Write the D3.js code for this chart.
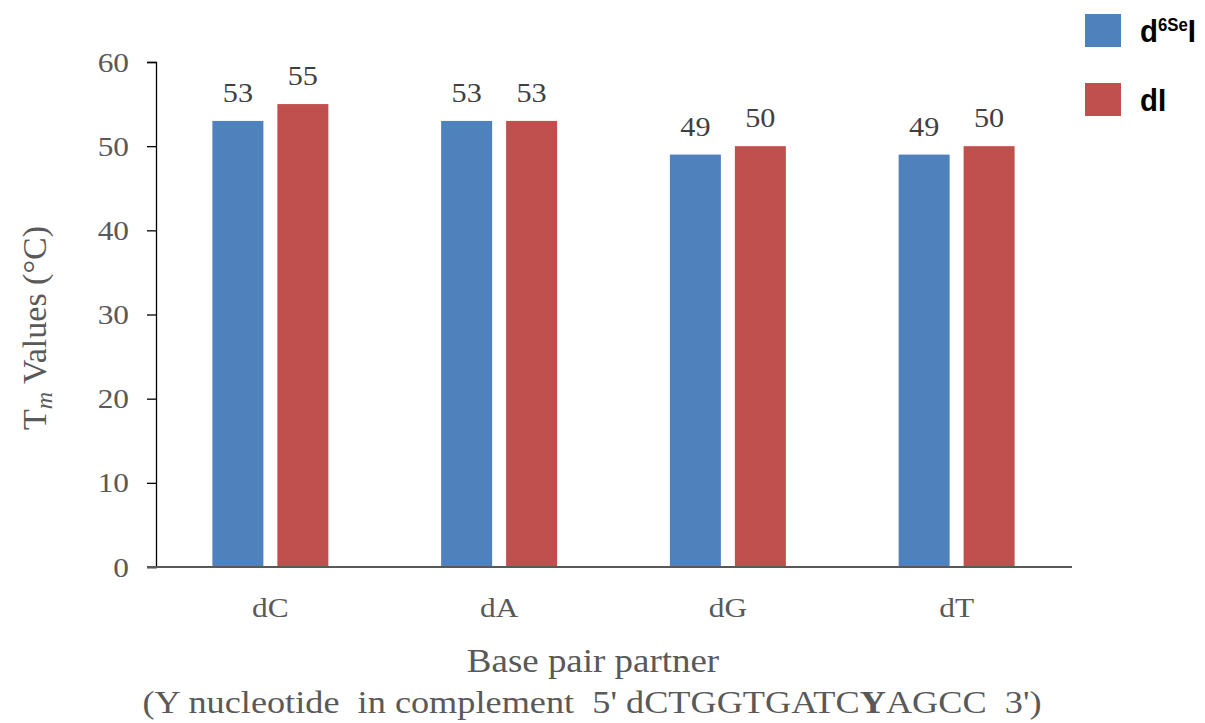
<!DOCTYPE html>
<html>
<head>
<meta charset="utf-8">
<script src="https://cdn.jsdelivr.net/npm/d3@7"></script>
<style>
  html, body { margin: 0; padding: 0; background: #fff; }
  svg { display: block; }
</style>
</head>
<body>
<svg id="chart" width="1205" height="723"></svg>
<script>
// Base pair partners and melting temperatures (°C)
const categories = ["dC", "dA", "dG", "dT"];
const seriesNames = ["d6SeI", "dI"];
const valuesD6SeI = [53, 53, 49, 49];
const valuesDI = [55, 53, 50, 50];
const yTicks = [0, 10, 20, 30, 40, 50, 60];
const seriesColors = ["#4F81BD", "#C0504D"];

const rows = categories.map((c, i) => ({
  cat: c,
  vals: [
    { key: seriesNames[0], v: valuesD6SeI[i] },
    { key: seriesNames[1], v: valuesDI[i] }
  ]
}));

const svg = d3.select("#chart");
const serif = "'Liberation Serif', 'Times New Roman', serif";
const grey = "#595959";
const SX = 1.12; // horizontal widening applied to text

// place a text element at (x, y) with a horizontal widening
function placeText(sel, x, y) {
  return sel.attr("transform", `translate(${x},${y}) scale(${SX},1)`);
}

const x0 = d3.scaleBand().domain(categories).range([156, 1071])
  .paddingInner(0.493).paddingOuter(0.2465);
const x1 = d3.scaleBand().domain(seriesNames).range([0, x0.bandwidth()])
  .paddingInner(0.215);
const y = d3.scaleLinear().domain([0, 60]).range([567, 62]);
const color = d3.scaleOrdinal().domain(seriesNames).range(seriesColors);

// Bars
const groups = svg.append("g").selectAll("g").data(rows).join("g")
  .attr("transform", d => `translate(${x0(d.cat)},0)`);
groups.selectAll("rect").data(d => d.vals).join("rect")
  .attr("x", d => x1(d.key))
  .attr("width", x1.bandwidth())
  .attr("y", d => y(d.v))
  .attr("height", d => y(0) - y(d.v))
  .attr("fill", d => color(d.key));

// Value labels above bars
groups.selectAll("text").data(d => d.vals).join("text")
  .each(function(d) {
    placeText(d3.select(this), x1(d.key) + x1.bandwidth() / 2, y(d.v) - 19);
  })
  .attr("text-anchor", "middle")
  .attr("font-family", serif)
  .attr("font-size", 27)
  .attr("fill", "#404040")
  .text(d => d.v);

// Y axis
const yAxis = svg.append("g").attr("transform", "translate(156,0)")
  .call(d3.axisLeft(y).tickValues(yTicks).tickSize(9).tickFormat(""));
yAxis.select(".domain").attr("stroke", "#000").attr("stroke-width", 1.3);
yAxis.selectAll(".tick line").attr("stroke", "#000").attr("stroke-width", 1.3);
yAxis.selectAll(".tick").append("text")
  .each(function() { placeText(d3.select(this), -27, 9); })
  .attr("text-anchor", "end")
  .attr("font-family", serif).attr("font-size", 28).attr("fill", grey)
  .text(d => d);

// X axis
svg.append("line").attr("x1", 147).attr("x2", 1072)
  .attr("y1", 567).attr("y2", 567)
  .attr("stroke", "#595959").attr("stroke-width", 2);
const xAxis = svg.append("g").attr("transform", "translate(0,567)")
  .call(d3.axisBottom(x0).tickSize(0).tickFormat(""));
xAxis.select(".domain").remove();
xAxis.selectAll(".tick").append("text")
  .each(function() { placeText(d3.select(this), 0, 50); })
  .attr("text-anchor", "middle")
  .attr("font-family", serif).attr("font-size", 28).attr("fill", grey)
  .text(d => d);

// Axis titles
const yTitle = svg.append("text")
  .attr("transform", "translate(46,328) rotate(-90)")
  .attr("text-anchor", "middle")
  .attr("font-family", serif).attr("font-size", 34).attr("fill", grey);
yTitle.append("tspan").text("T");
yTitle.append("tspan").attr("font-style", "italic").attr("font-size", 24)
  .attr("dy", 6).text("m");
yTitle.append("tspan").attr("dy", -6).text(" Values (°C)");

placeText(svg.append("text"), 593, 672)
  .attr("text-anchor", "middle")
  .attr("font-family", serif).attr("font-size", 33).attr("fill", grey)
  .text("Base pair partner");

const sub = placeText(svg.append("text"), 592, 713)
  .attr("text-anchor", "middle")
  .attr("font-family", serif).attr("font-size", 32.4).attr("fill", grey)
  .attr("xml:space", "preserve");
sub.append("tspan").text("(Y nucleotide  in complement  5' dCTGGTGATC");
sub.append("tspan").attr("font-weight", "bold").text("Y");
sub.append("tspan").text("AGCC  3')");

// Legend
const legend = svg.append("g").selectAll("g").data(seriesNames).join("g")
  .attr("transform", (d, i) => `translate(1085,${14 + i * 69})`);
legend.append("rect").attr("width", 36).attr("height", 33)
  .attr("fill", d => color(d));
const legText = legend.append("text")
  .attr("transform", "translate(55,28) scale(1.05,1.1)")
  .attr("font-family", "'Liberation Sans', Arial, sans-serif")
  .attr("font-weight", "bold").attr("font-size", 28).attr("fill", "#000");
legText.each(function(d) {
  const t = d3.select(this);
  if (d === "d6SeI") {
    t.append("tspan").text("d");
    t.append("tspan").attr("font-size", 16).attr("dy", -10).text("6Se");
    t.append("tspan").attr("dy", 10).text("I");
  } else {
    t.append("tspan").text("dI");
  }
});
</script>
</body>
</html>
